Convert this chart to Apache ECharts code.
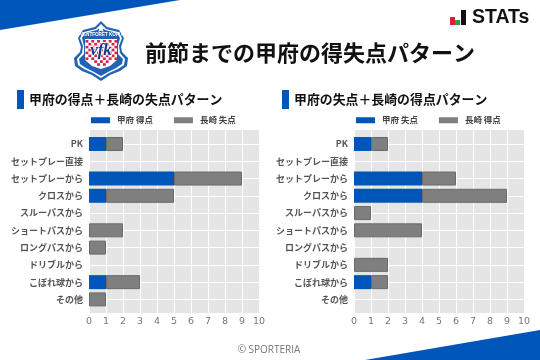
<!DOCTYPE html>
<html>
<head>
<meta charset="utf-8">
<style>
  html, body { margin: 0; padding: 0; background: #fff; }
  #chart { width: 540px; height: 360px; }
</style>
<script src="https://cdn.jsdelivr.net/npm/echarts@6/dist/echarts.min.js"></script>
</head>
<body>
<div id="chart"></div>
<script>
const categories = ['PK', 'セットプレー直接', 'セットプレーから', 'クロスから', 'スルーパスから', 'ショートパスから', 'ロングパスから', 'ドリブルから', 'こぼれ球から', 'その他'];
const xTicks = [0, 10];

const leftBlue = [1, 0, 5, 1, 0, 0, 0, 0, 1, 0];
const leftGray = [1, 0, 4, 4, 0, 2, 1, 0, 2, 1];
const rightBlue = [1, 0, 4, 4, 0, 0, 0, 0, 1, 0];
const rightGray = [1, 0, 2, 5, 1, 4, 0, 2, 1, 0];

const leftNames = ['甲府 得点', '長崎 失点'];
const rightNames = ['甲府 失点', '長崎 得点'];

const titleText = '前節までの甲府の得失点パターン';
const leftTitle = '甲府の得点＋長崎の失点パターン';
const rightTitle = '甲府の失点＋長崎の得点パターン';

const BLUE = '#0055b8';
const JP = '"Noto Sans CJK JP", "Noto Sans", sans-serif';

let myChart = echarts.init(document.getElementById('chart'), null, { renderer: 'canvas' });

// each panel has 2 grids: the back one carries grey box + x axis,
// the front one is inset so categories land where matplotlib put them
function panelGrids(left) {
  return [
    { left: left, width: 170, top: 130, height: 183, backgroundColor: '#e5e5e5', show: true, borderWidth: 0 },
    { left: left, width: 170, top: 144, height: 155.4, show: false }
  ];
}

function backX(gridIndex) {
  return {
    gridIndex: gridIndex, type: 'value', min: xTicks[0], max: xTicks[1], interval: 1,
    axisLine: { show: false },
    axisTick: { show: false },
    axisLabel: { color: '#777', fontSize: 9.5, fontFamily: 'DejaVu Sans', margin: 4, hideOverlap: false },
    splitLine: { show: true, lineStyle: { color: '#fff', width: 1 } }
  };
}

function frontX(gridIndex) {
  return { gridIndex: gridIndex, type: 'value', min: xTicks[0], max: xTicks[1], show: false };
}

function backY(gridIndex) {
  return { gridIndex: gridIndex, type: 'value', show: false, splitLine: { show: false } };
}

function frontY(gridIndex) {
  return {
    gridIndex: gridIndex, type: 'category', data: categories, inverse: true, boundaryGap: false,
    axisLine: { show: false },
    axisTick: { show: false },
    axisLabel: { color: '#555', fontSize: 9, fontWeight: 'bold', fontFamily: JP, margin: 6, interval: 0 },
    splitLine: { show: true, interval: 0, lineStyle: { color: '#fff', width: 1 } }
  };
}

function barSeries(name, values, axisIndex, stack, color, border) {
  return {
    name: name, type: 'bar', stack: stack, xAxisIndex: axisIndex, yAxisIndex: axisIndex,
    data: values.map(v => (v === 0 ? '-' : v)),
    barWidth: 14, clip: false, animation: false, silent: true,
    itemStyle: { color: color, borderColor: border, borderWidth: border === 'transparent' ? 0 : 1 }
  };
}

function legendFor(names, left) {
  return {
    data: names.map(n => ({ name: n, itemStyle: { borderWidth: 0 } })), left: left, top: 111, orient: 'horizontal',
    icon: 'rect', itemWidth: 19, itemHeight: 6, itemGap: 21, selectedMode: false,
    textStyle: { color: '#444', fontSize: 8.5, fontWeight: 'bold', fontFamily: JP, padding: [0, 0, 0, 2] }
  };
}

function crest() {
  let els = [];
  const poly = (pts, fill, stroke) => els.push({
    type: 'polygon', shape: { points: pts },
    style: { fill: fill, stroke: stroke || null, lineWidth: stroke ? 1 : 0 }
  });
  // outer badge
  poly([[101, 21], [107, 27], [119, 30], [124, 38], [121, 47], [122, 52], [128, 58], [127, 66], [120, 71], [110, 75], [101, 81], [92, 75], [82, 71], [75, 66], [74, 58], [80, 52], [81, 47], [78, 38], [83, 30], [95, 27]], '#1f63b4');
  poly([[101, 24], [106, 29], [118, 32], [122, 38], [119, 46], [120, 53], [125, 59], [124, 65], [118, 69], [109, 73], [101, 78], [93, 73], [84, 69], [78, 65], [77, 59], [82, 53], [83, 46], [80, 38], [84, 32], [96, 29]], '#ffffff');
  poly([[101, 26], [105, 30], [117, 33], [120, 38], [118, 46], [118, 54], [123, 59], [122, 64], [116, 68], [108, 72], [101, 76], [94, 72], [86, 68], [80, 64], [79, 59], [84, 54], [84, 46], [82, 38], [85, 33], [97, 30]], '#1f63b4');
  // white field with red checks
  poly([[85, 39], [117, 39], [117, 60], [110, 66], [101, 69], [92, 66], [85, 60]], '#ffffff');
  for (let r = 0; r < 9; r++) {
    for (let c = 0; c < 11; c++) {
      if ((r + c) % 2 === 0) {
        const x = 85.5 + c * 2.9, y = 40 + r * 2.9;
        if (y > 60 && (x < 93 || x > 107)) continue;
        els.push({ type: 'rect', shape: { x: x, y: y, width: 2.9, height: 2.6 }, style: { fill: '#d5234a' } });
      }
    }
  }
  els.push({ type: 'text', style: { x: 101, y: 34.5, text: 'VENTFORET KOFU', fill: '#fff', fontSize: 4.6, fontWeight: 'bold', fontFamily: 'Liberation Sans', align: 'center', verticalAlign: 'middle' } });
  els.push({ type: 'text', style: { x: 101, y: 51, text: 'vfk', fill: '#123a86', stroke: '#fff', lineWidth: 1.5, fontSize: 17, fontWeight: 'bold', fontStyle: 'italic', fontFamily: 'Liberation Serif', align: 'center', verticalAlign: 'middle' } });
  els.push({ type: 'polygon', shape: { points: [[101, 24.5], [102.2, 27.2], [105, 27.4], [102.8, 29.2], [103.6, 32], [101, 30.4], [98.4, 32], [99.2, 29.2], [97, 27.4], [99.8, 27.2]] }, style: { fill: '#fff' } });
  return els;
}

function texts() {
  const txt = (x, y, t, size, color, weight, family, align) => ({
    type: 'text',
    style: { x: x, y: y, text: t, fill: color, fontSize: size, fontWeight: weight, fontFamily: family, align: align || 'left', verticalAlign: 'middle' }
  });
  const rect = (x, y, w, h, fill) => ({ type: 'rect', shape: { x: x, y: y, width: w, height: h }, style: { fill: fill } });
  return [
    { type: 'polygon', shape: { points: [[0, 0], [180, 0], [0, 30]] }, style: { fill: BLUE } },
    { type: 'polygon', shape: { points: [[365, 360], [540, 330], [540, 360]] }, style: { fill: BLUE } },
    txt(145, 53, titleText, 22, '#111', 'bold', JP),
    rect(17, 90, 7, 19, BLUE),
    rect(282, 90, 7, 19, BLUE),
    txt(29, 99, leftTitle, 12.9, '#111', 'bold', JP),
    txt(294, 99, rightTitle, 12.9, '#111', 'bold', JP),
    rect(450, 17, 5, 8, '#e0202c'),
    rect(455, 20, 5, 5, '#2aa052'),
    rect(461, 10, 5, 15, '#111'),
    txt(472, 18, 'STATs', 19.5, '#111', 'bold', 'Liberation Sans'),
    txt(269, 350, '© SPORTERIA', 10, '#777', 'normal', 'Open Sans', 'center')
  ].concat(crest());
}

let option = {
  animation: false,
  backgroundColor: '#fff',
  grid: panelGrids(89).concat(panelGrids(354)),
  xAxis: [backX(0), frontX(1), backX(2), frontX(3)],
  yAxis: [backY(0), frontY(1), backY(2), frontY(3)],
  legend: [legendFor(leftNames, 86), legendFor(rightNames, 351)],
  series: [
    barSeries(leftNames[0], leftBlue, 1, 'l', BLUE, 'transparent'),
    barSeries(leftNames[1], leftGray, 1, 'l', '#7f7f7f', '#6a6a6a'),
    barSeries(rightNames[0], rightBlue, 3, 'r', BLUE, 'transparent'),
    barSeries(rightNames[1], rightGray, 3, 'r', '#7f7f7f', '#6a6a6a')
  ],
  graphic: { elements: texts() }
};
myChart.setOption(option);
</script>
</body>
</html>
